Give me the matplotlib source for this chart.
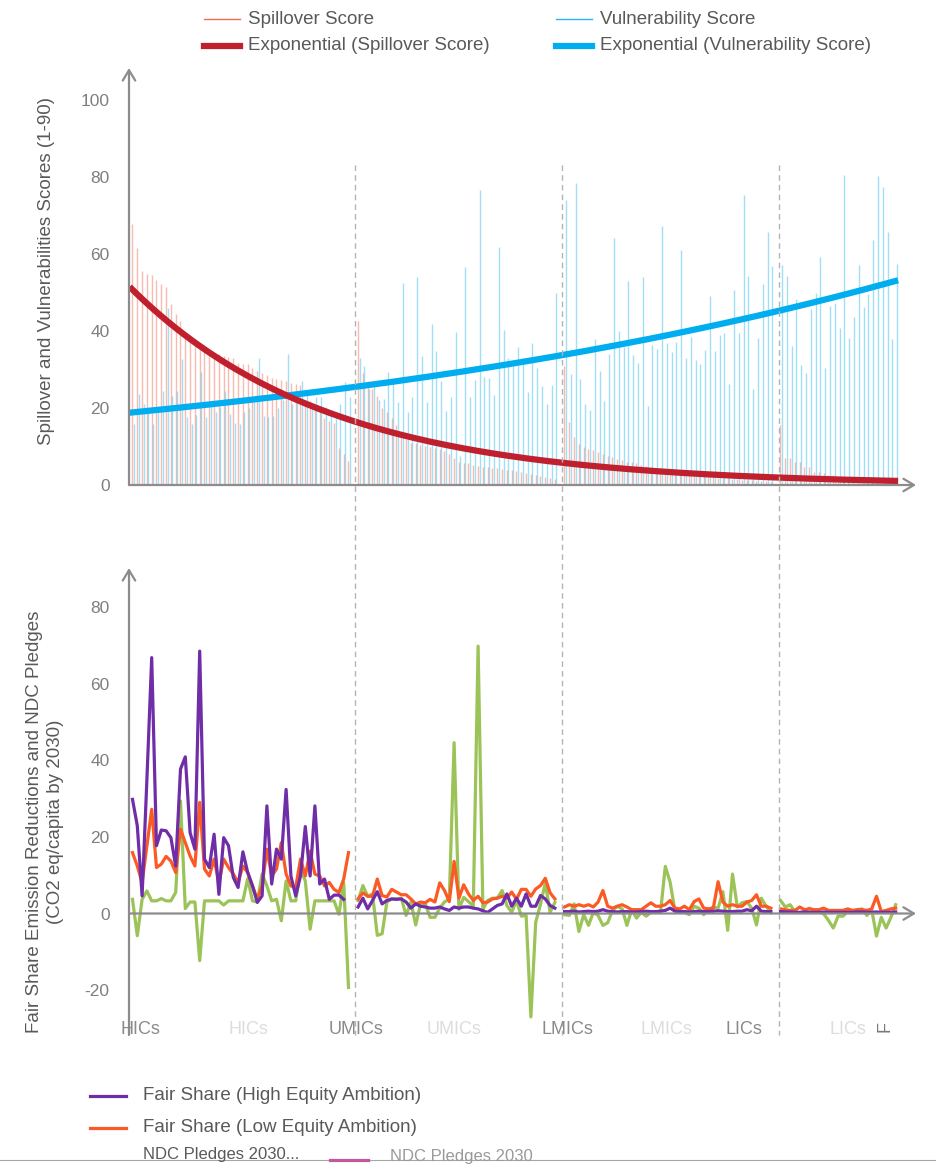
import numpy as np
import matplotlib
matplotlib.use("Agg")
import matplotlib.pyplot as plt
from matplotlib.lines import Line2D
from matplotlib.transforms import blended_transform_factory

plt.rcParams["font.family"] = ["Liberation Sans Narrow", "Liberation Sans", "DejaVu Sans"]

# ---- data (one value per country, grouped by income) ----
group_names = ["HICs", "UMICs", "LMICs", "LICs"]
group_starts = [0, 47, 90, 135]
n_slots = 160

hic_spill = [67.7, 61.6, 55.6, 54.9, 54.5, 53.2, 52.3, 51.4, 46.9, 44.5,
             42.6, 39.6, 38.3, 36.7, 35.7, 35.0, 34.6, 34.4, 33.9, 33.5,
             33.2, 33.1, 31.8, 31.3, 31.3, 30.5, 29.6, 29.2, 28.6, 27.9,
             27.6, 27.2, 27.0, 26.6, 26.3, 26.1, 21.8, 21.8, 20.1, 19.7,
             17.5, 16.6, 16.2, 9.7, 8.0, 6.2]
umic_spill = [42.5, 29, 27, 25, 23, 20, 19, 17.5, 15.5, 13,
              12, 11, 10.8, 10.5, 10.2, 10, 9.6, 9.3, 8.8, 8,
              7, 6, 5.8, 5.6, 5.3, 5, 4.8, 4.6, 4.5, 4.4,
              4.2, 4, 3.8, 3.6, 3.4, 3.2, 2.9, 2.6, 2.3, 2,
              1.8, 1.6]
lmic_spill = [31, 16.3, 12.4, 10.6, 10, 9.4, 9, 8.5, 8, 7.6,
              7.2, 6.8, 6.4, 6.1, 5.9, 5.6, 5.3, 5, 4.8, 4.5,
              4.3, 4.2, 3.9, 3.6, 3.3, 3.1, 2.9, 2.7, 2.5, 2.3,
              2.2, 2.0, 1.9, 1.8, 1.7, 1.6, 1.5, 1.4, 1.3, 1.2,
              1.1, 1.0, 0.95, 0.9]
lic_spill = [15.6, 6.9, 6.9, 6, 6, 4.8, 4.8, 3.5, 3.5, 3,
             2.6, 2.6, 2.1, 1.7, 1.5, 1.3, 1.1, 1, 0.9, 0.8,
             0.7, 0.6, 0.5, 0.4, 0.3]

hic_vuln = [15.8, 23.6, 21, 19, 15.8, 20, 24.5, 46, 23, 24.3,
            32.7, 17.6, 15.8, 18.3, 29.4, 17.6, 21.7, 19, 20.2, 24.5,
            18.4, 16, 15.8, 18.9, 20, 21.9, 33, 18, 17.6, 17.8,
            20, 22, 33.9, 21, 23, 27.1, 24, 21, 22.8, 22.8,
            20.2, 18.3, 17.6, 21, 26.8, 22.8]
umic_vuln = [33, 31, 25, 27, 22, 22.3, 29.3, 27.1, 21.5, 52.5,
             18.9, 22.8, 53.9, 33.6, 21.5, 41.8, 34.9, 27.1, 19.3, 22.8,
             39.8, 7.6, 56.7, 22.9, 27.3, 76.5, 28.1, 27.7, 23.4, 61.7,
             40.3, 33, 32.1, 35.8, 33, 24.2, 36.9, 30.4, 25.7, 21,
             26, 49.9]
lmic_vuln = [73.9, 28.8, 78.4, 27.5, 21, 19.6, 37.9, 29.7, 21.9, 33.9,
             64.2, 40.1, 35.8, 53.1, 33.8, 31.6, 54.1, 20.6, 36.4, 35.2,
             67.4, 36.8, 34.6, 37.2, 61, 32.9, 38.5, 32.5, 31.4, 35,
             49.2, 34.8, 39, 39.6, 26.2, 50.6, 39.4, 75.3, 54.4, 24.9,
             38.1, 52.1, 65.6, 56.9]
lic_vuln = [57.1, 54.4, 36.2, 48.3, 31.2, 29, 45.7, 49.8, 59.3, 30.5,
            46.6, 47.4, 40.9, 80.5, 38.3, 43.7, 57.1, 46.3, 49.5, 63.6,
            80.3, 77.3, 65.8, 37.8, 57.4]

hic_high = [29.8, 22.9, 4.6, 35, 66.8, 17.7, 21.8, 21.6, 19.8, 12.4,
            37.7, 40.9, 21.1, 16.8, 68.5, 14.2, 12, 20.7, 5, 19.8,
            17.7, 9.4, 6.8, 16.1, 10.7, 7.2, 2.9, 4.6, 28.1, 7.7,
            16.8, 14.2, 32.4, 9.8, 4.6, 9.8, 22.7, 9.8, 28.1, 7.7,
            9, 3.7, 4.8, 4.8, 3.7, np.nan]
umic_high = [1.7, 4, 1.2, 3.4, 5.7, 2.5, 3.4, 3.8, 3.7, 3.8,
             3, 1.4, 2.5, 1.9, 1.7, 1.4, 1.4, 1.7, 1.2, 0.8,
             1.7, 1.4, 1.7, 1.7, 1.4, 1.2, 0.7, 0.3, 1.2, 2.1,
             2.5, 5.1, 1.9, 4, 1.9, 5.1, 1.9, 1.9, 4.7, 3.8,
             2.1, 1.4]
lmic_high = [0.5, 0.5, 0.6, 0.4, 0.5, 0.6, 0.5, 0.6, 1.0, 0.6,
             0.5, 0.4, 0.5, 0.5, 0.4, 0.4, 0.5, 0.6, 0.5, 0.5,
             0.6, 0.8, 1.4, 0.6, 0.5, 0.5, 0.4, 0.5, 0.6, 0.5,
             0.5, 0.6, 0.7, 0.6, 0.5, 0.5, 0.6, 0.6, 1.0, 0.7,
             1.9, 0.6, 0.5, 0.5]
lic_high = [0.5, 0.4, 0.4, 0.3, 0.3, 0.4, 0.3, 0.3, 0.3, 0.4,
            0.3, 0.3, 0.3, 0.3, 0.3, 0.3, 0.4, 0.4, 0.3, 0.3,
            0.4, 0.3, 0.3, 0.3, 0.4]

hic_low = [15.9, 12.4, 8.1, 17.7, 27.2, 12, 12.9, 14.9, 13.7, 10.7,
           22, 18.5, 15, 12.4, 29, 11.6, 9.8, 14.2, 8.1, 14.2,
           12, 10.3, 8.1, 12.4, 10.7, 7.2, 3.7, 7.2, 16.8, 9.8,
           11.6, 18.5, 10.3, 7.2, 6.8, 14.2, 9.8, 16.3, 10.3, 9.8,
           7.2, 8.1, 6.3, 5.5, 9, 15.9]
umic_low = [3.8, 5.4, 4.5, 4.5, 9, 4.7, 4.3, 6.3, 5.6, 4.9,
            4.9, 3.8, 2.5, 3, 2.8, 3.7, 3, 8, 6, 3.1,
            13.6, 4, 7.5, 5.1, 3.4, 4.5, 2.8, 3, 3.8, 4,
            4.5, 4, 5.6, 3.7, 6.3, 6.3, 4.5, 6.4, 7.3, 9.2,
            5.4, 3.8]
lmic_low = [1.7, 2.3, 1.9, 2.3, 1.9, 2.3, 1.7, 3, 6, 1.9,
            1.4, 1.9, 2.3, 1.7, 1, 1, 1, 1.9, 2.8, 1.9,
            1.9, 2.3, 3.4, 1.4, 1.2, 1.9, 1, 3.1, 3.8, 1.4,
            1.2, 1.4, 8.3, 3, 1.9, 2.3, 1.9, 1.9, 3, 3.4,
            4.9, 1.9, 1.9, 1.4]
lic_low = [1.2, 1, 0.8, 0.8, 1.7, 1, 1.2, 1, 1, 1.4,
           0.8, 0.8, 0.8, 0.8, 1.2, 0.8, 1, 1, 0.8, 1.2,
           4.5, 0.5, 0.8, 1.2, 1.4]

hic_ndc = [3.7, -5.8, 3.7, 5.9, 3.3, 3.3, 3.9, 3.3, 3.3, 5.5,
           29.4, 1.3, 3, 3, -12.3, 3.3, 3.3, 3.3, 3.3, 2.2,
           3.3, 3.3, 3.3, 3.3, 9.1, 3.3, 3, 10.3, 7.2, 3.3,
           3.7, -1.9, 8.5, 3.3, 3.3, 11.6, 8.5, -4.1, 3.3, 3.3,
           3.3, 3.3, 3.3, -0.2, 8.1, -19.3]
umic_ndc = [3.4, 7.3, 4.5, 5.1, -5.7, -5.3, 3, 3.8, 3.8, 4,
            -0.5, 3, -3, 2.5, 2.5, -1, -1, 1.4, 3, 3.8,
            44.6, 1.1, 4.2, 3.1, 2, 69.8, 1.1, 3.4, 4, 4,
            6, 2.1, 0.3, 3.4, -0.7, -0.5, -27, -2.3, 2.4, 8,
            0.3, 2.9]
lmic_ndc = [-0.3, -0.5, 2.5, -4.7, -0.3, -3.1, 0.3, -0.5, -3.1, -2.4,
            0.8, 1.9, 1.2, -3.1, 1, -1.2, 0.3, -0.7, 0.3, 0.3,
            0.3, 12.3, 8.2, 0.8, 0.5, 0.3, -0.3, 1.9, 1.4, -0.3,
            1, 1.7, 1.4, 5.7, -4.4, 10.3, 1.7, 2.8, 3.1, 1.4,
            -3, 4, 1.9, 0.2]
lic_ndc = [3.4, 1.7, 2.3, 0.5, 0.2, 0.5, 1.4, 0.8, 0.5, -0.1,
           -1.8, -3.8, -0.7, -0.7, 0.5, 0.2, 1, 1.2, -0.5, 1,
           -5.9, -1, -3.8, -1, 2.3]

top_ticks = [0, 20, 40, 60, 80, 100]
bottom_ticks = [-20, 0, 20, 40, 60, 80]


def assemble(*parts):
    full = np.full(n_slots, np.nan)
    for start, vals in zip(group_starts, parts):
        full[start:start + len(vals)] = vals
    return full


spill = assemble(hic_spill, umic_spill, lmic_spill, lic_spill)
vuln = assemble(hic_vuln, umic_vuln, lmic_vuln, lic_vuln)
fair_high = assemble(hic_high, umic_high, lmic_high, lic_high)
fair_low = assemble(hic_low, umic_low, lmic_low, lic_low)
ndc = assemble(hic_ndc, umic_ndc, lmic_ndc, lic_ndc)
idx = np.arange(n_slots)

# ---- layout helpers (pixel based) ----
W, H = 937, 1167
GRAY = "#8c8c8c"
TXT = "#595959"


def fx(x):
    return x / W


def fy(y):
    return 1 - y / H


x0_px, step_px = 132.5, 4.8
ax_left_px, ax_right_px = 129, 916
x_lo = (ax_left_px - x0_px) / step_px
x_hi = (ax_right_px - x0_px) / step_px

fig = plt.figure(figsize=(W / 100, H / 100), dpi=100)

# top panel
ax1 = fig.add_axes([fx(ax_left_px), fy(485), (ax_right_px - ax_left_px) / W, (485 - 68) / H])
ax1.set_xlim(x_lo, x_hi)
ax1.set_ylim(0, (485 - 68) / 3.85)

ok = ~np.isnan(spill)
ax1.vlines(idx[ok], 0, spill[ok], color="#f5a08e", lw=1.0, alpha=0.7)
ok_v = ~np.isnan(vuln)
ax1.vlines(idx[ok_v] + 0.3, 0, vuln[ok_v], color="#55c5f0", lw=1.0, alpha=0.55)

# exponential trendlines fitted to the scores
xs = np.linspace(-0.6, 159.5, 200)
c_s = np.polyfit(idx[ok], np.log(spill[ok]), 1)
c_v = np.polyfit(idx[ok_v], np.log(vuln[ok_v]), 1)
ax1.plot(xs, np.exp(np.polyval(c_v, xs)), color="#00aeef", lw=4.5, solid_capstyle="butt")
ax1.plot(xs, np.exp(np.polyval(c_s, xs)), color="#c0202e", lw=4.5, solid_capstyle="butt")

# bottom panel
ax2 = fig.add_axes([fx(ax_left_px), fy(1035), (ax_right_px - ax_left_px) / W, (1035 - 568) / H])
ax2.set_xlim(x_lo, x_hi)
ax2.set_ylim((913.5 - 1035) / 3.83, (913.5 - 568) / 3.83)
ax2.plot(idx, ndc, color="#9bc357", lw=2.3)
ax2.plot(idx, fair_low, color="#fb5a24", lw=2.3)
ax2.plot(idx, fair_high, color="#6f2da8", lw=2.3)

arrow = dict(arrowstyle="->,head_length=0.75,head_width=0.45", color=GRAY, lw=1.6,
             shrinkA=0, shrinkB=0)
for ax, ticks in [(ax1, top_ticks), (ax2, bottom_ticks)]:
    for s in ax.spines.values():
        s.set_visible(False)
    ax.set_xticks([])
    ax.set_yticks(ticks)
    ax.set_yticklabels([str(t) for t in ticks])
    ax.tick_params(axis="y", length=0, pad=14, labelsize=12.5, labelcolor="#7f7f7f")
    lo, hi = ax.get_ylim()
    ax.annotate("", xy=(x_lo, hi), xytext=(x_lo, lo), arrowprops=arrow, annotation_clip=False)
    ax.annotate("", xy=(x_hi, 0), xytext=(x_lo, 0), arrowprops=arrow, annotation_clip=False)

# dashed group separators across both panels
trans = blended_transform_factory(ax1.transData, fig.transFigure)
for b in [46.4, 89.5, 134.7]:
    fig.add_artist(Line2D([b, b], [fy(165), fy(1035)], transform=trans,
                          ls=(0, (4, 3)), color="#b3b3b3", lw=1.0))

# axis titles
fig.text(fx(47), fy(271), "Spillover and Vulnerabilities Scores (1-90)", rotation=90,
         ha="center", va="center", fontsize=13.5, color=TXT)
fig.text(fx(45), fy(822), "Fair Share Emission Reductions and NDC Pledges\n(CO2 eq/capita by 2030)",
         rotation=90, ha="center", va="center", fontsize=13.5, color=TXT, linespacing=1.25)

# group labels under the bottom panel
label_pos = [(140, "HICs", "#8a8a8a"), (248, "HICs", "#dddddd"), (356, "UMICs", "#8a8a8a"),
             (454, "UMICs", "#dddddd"), (567, "LMICs", "#8a8a8a"), (666, "LMICs", "#dddddd"),
             (744, "LICs", "#8a8a8a"), (848, "LICs", "#dddddd")]
for x, t, c in label_pos:
    fig.text(fx(x), fy(1029), t, ha="center", va="center", fontsize=13, color=c)
fig.text(fx(885), fy(1027), "F", rotation=90, ha="center", va="center", fontsize=13, color="#7a7a7a")


def legend_item(x_line, x_text, y, color, lw, label, size=13.5):
    fig.add_artist(Line2D([fx(x_line), fx(x_line + 36)], [fy(y), fy(y)], color=color, lw=lw))
    fig.text(fx(x_text), fy(y), label, ha="left", va="center", fontsize=size, color=TXT)


# top legend
legend_item(204, 248, 19, "#f26b55", 1.0, "Spillover Score")
legend_item(204, 248, 46, "#c0202e", 4.5, "Exponential (Spillover Score)")
legend_item(556, 600, 19, "#29b6f6", 1.0, "Vulnerability Score")
legend_item(556, 600, 46, "#00aeef", 4.5, "Exponential (Vulnerability Score)")

# bottom legend
legend_item(90, 143, 1096, "#6f2da8", 2.3, "Fair Share (High Equity Ambition)")
legend_item(90, 143, 1128, "#fb5a24", 2.3, "Fair Share (Low Equity Ambition)")
fig.text(fx(143), fy(1155), "NDC Pledges 2030...", ha="left", va="center", fontsize=12, color=TXT)
fig.add_artist(Line2D([0, 1], [fy(1160), fy(1160)], color="#a6a6a6", lw=0.8))
fig.add_artist(Line2D([fx(330), fx(368)], [fy(1160), fy(1160)], color="#c0589e", lw=2.3))
fig.text(fx(390), fy(1157), "NDC Pledges 2030", ha="left", va="center", fontsize=12, color="#9a9a9a")

fig.savefig("out.png", dpi=100, facecolor="white")
